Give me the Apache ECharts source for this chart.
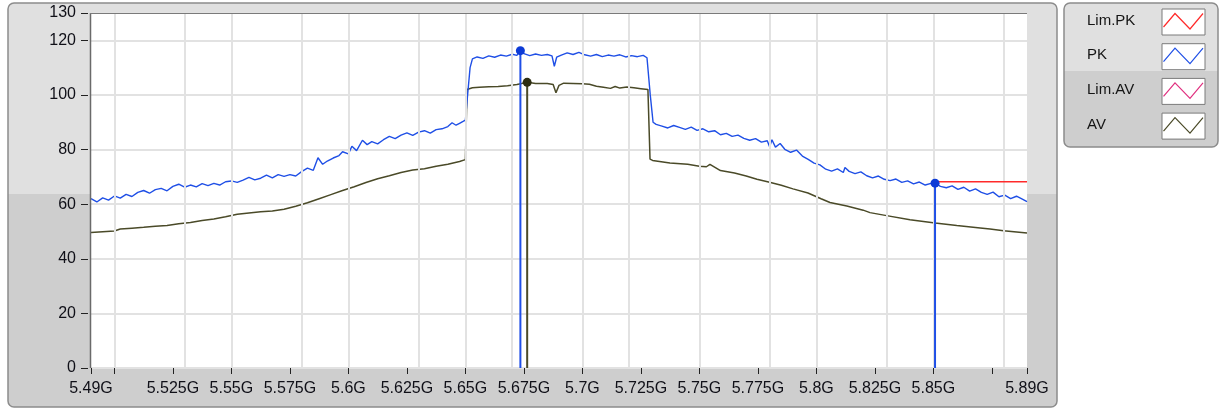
<!DOCTYPE html>
<html>
<head>
<meta charset="utf-8">
<script src="https://cdn.jsdelivr.net/npm/echarts@6/dist/echarts.min.js"></script>
<style>
html,body{margin:0;padding:0;background:#ffffff;}
#c{width:1223px;height:412px;}
</style>
</head>
<body>
<div id="c"></div>
<script>
// ---------- data ----------
const seriesNames = ['Lim.PK', 'PK', 'Lim.AV', 'AV'];

const xLabelValues = [5.49, 5.525, 5.55, 5.575, 5.6, 5.625, 5.65, 5.675, 5.7, 5.725, 5.75, 5.775, 5.8, 5.825, 5.85, 5.89];
const xLabelTexts = ['5.49G', '5.525G', '5.55G', '5.575G', '5.6G', '5.625G', '5.65G', '5.675G', '5.7G', '5.725G', '5.75G', '5.775G', '5.8G', '5.825G', '5.85G', '5.89G'];
const xTickValues = [5.49, 5.5, 5.525, 5.55, 5.575, 5.6, 5.625, 5.65, 5.675, 5.7, 5.725, 5.75, 5.775, 5.8, 5.825, 5.85, 5.875, 5.89];
const xGridValues = [5.5, 5.525, 5.55, 5.575, 5.6, 5.625, 5.65, 5.675, 5.7, 5.725, 5.75, 5.775, 5.8, 5.825, 5.85, 5.875];
const yTickValues = [0, 20, 40, 60, 80, 100, 120, 130];

const pkData = [
  [5.4900, 62.0], [5.4925, 60.8], [5.4950, 62.3], [5.4975, 61.5], [5.5000, 63.0], [5.5025, 62.2],
  [5.5050, 63.6], [5.5075, 62.8], [5.5100, 64.3], [5.5125, 65.0], [5.5150, 64.0], [5.5175, 65.3],
  [5.5200, 65.8], [5.5225, 64.9], [5.5250, 66.5], [5.5275, 67.3], [5.5300, 66.2], [5.5325, 67.0],
  [5.5350, 66.3], [5.5375, 67.5], [5.5400, 66.8], [5.5425, 67.6], [5.5450, 67.0], [5.5475, 68.2],
  [5.5500, 68.5], [5.5525, 68.0], [5.5550, 68.8], [5.5575, 69.8], [5.5600, 68.9], [5.5625, 69.5],
  [5.5650, 70.6], [5.5675, 69.6], [5.5700, 70.8], [5.5725, 70.2], [5.5750, 70.8], [5.5775, 70.3],
  [5.5800, 71.9], [5.5825, 73.2], [5.5850, 72.4], [5.5870, 77.0], [5.5890, 74.6], [5.5910, 75.8],
  [5.5935, 76.9], [5.5960, 77.8], [5.5975, 79.2], [5.6000, 78.4], [5.6015, 81.2], [5.6035, 79.6],
  [5.6060, 83.4], [5.6080, 81.8], [5.6100, 82.9], [5.6125, 82.1], [5.6150, 83.6], [5.6175, 84.8],
  [5.6200, 84.0], [5.6225, 85.3], [5.6250, 86.1], [5.6275, 85.2], [5.6300, 86.4], [5.6325, 86.9],
  [5.6350, 86.0], [5.6375, 87.3], [5.6400, 87.6], [5.6425, 88.4], [5.6443, 89.8], [5.6460, 88.9],
  [5.6475, 89.6], [5.6490, 90.3], [5.6500, 90.8], [5.6510, 100.5], [5.6520, 110.0], [5.6530, 113.2],
  [5.6550, 113.9], [5.6575, 113.4], [5.6600, 114.3], [5.6625, 113.8], [5.6650, 114.6], [5.6675, 114.2],
  [5.6700, 114.9], [5.6720, 114.5], [5.6735, 116.2], [5.6750, 115.1], [5.6775, 114.4], [5.6800, 115.0],
  [5.6825, 114.5], [5.6850, 114.8], [5.6870, 114.3], [5.6880, 110.5], [5.6890, 113.8], [5.6910, 114.6],
  [5.6935, 115.4], [5.6960, 114.8], [5.6985, 115.6], [5.7010, 114.7], [5.7035, 114.2], [5.7060, 114.8],
  [5.7085, 114.0], [5.7110, 114.6], [5.7135, 114.2], [5.7160, 114.7], [5.7185, 113.9], [5.7210, 114.4],
  [5.7235, 114.0], [5.7260, 114.5], [5.7276, 113.6], [5.7290, 100.0], [5.7302, 90.0], [5.7315, 89.2],
  [5.7340, 88.6], [5.7365, 87.9], [5.7390, 88.8], [5.7415, 88.1], [5.7440, 87.4], [5.7465, 88.2],
  [5.7490, 87.0], [5.7515, 87.6], [5.7540, 86.5], [5.7565, 86.9], [5.7590, 85.4], [5.7615, 85.9],
  [5.7640, 84.8], [5.7665, 85.3], [5.7690, 84.1], [5.7715, 83.4], [5.7740, 84.0], [5.7765, 82.7],
  [5.7790, 83.2], [5.7800, 81.0], [5.7810, 83.6], [5.7825, 80.9], [5.7845, 82.2], [5.7865, 80.1],
  [5.7890, 79.0], [5.7915, 79.8], [5.7940, 77.6], [5.7965, 76.4], [5.7990, 75.0], [5.8015, 74.4],
  [5.8040, 72.8], [5.8065, 72.1], [5.8090, 72.9], [5.8115, 71.6], [5.8122, 73.4], [5.8140, 72.0],
  [5.8165, 71.2], [5.8190, 71.8], [5.8215, 70.4], [5.8240, 69.6], [5.8265, 70.3], [5.8290, 69.1],
  [5.8315, 68.6], [5.8340, 69.2], [5.8365, 68.0], [5.8390, 68.5], [5.8415, 67.4], [5.8440, 68.1],
  [5.8465, 67.0], [5.8490, 67.6], [5.8507, 67.7], [5.8530, 66.5], [5.8555, 66.0], [5.8580, 66.7],
  [5.8605, 65.4], [5.8630, 66.2], [5.8655, 64.8], [5.8680, 65.6], [5.8705, 64.3], [5.8730, 63.6],
  [5.8755, 64.4], [5.8780, 62.7], [5.8805, 63.3], [5.8830, 62.0], [5.8855, 62.9], [5.8880, 61.8],
  [5.8900, 60.9]
];

const avData = [
  [5.4900, 49.6], [5.4950, 49.9], [5.5000, 50.2], [5.5025, 50.9], [5.5075, 51.2], [5.5125, 51.5],
  [5.5175, 51.9], [5.5225, 52.2], [5.5275, 52.8], [5.5325, 53.3], [5.5375, 54.0], [5.5425, 54.6],
  [5.5475, 55.4], [5.5525, 56.3], [5.5575, 56.8], [5.5625, 57.2], [5.5675, 57.5], [5.5725, 58.1],
  [5.5775, 59.2], [5.5825, 60.5], [5.5875, 62.0], [5.5925, 63.5], [5.5975, 65.0], [5.6025, 66.4],
  [5.6075, 67.9], [5.6125, 69.3], [5.6175, 70.4], [5.6225, 71.6], [5.6275, 72.5], [5.6325, 73.0],
  [5.6375, 73.9], [5.6425, 74.6], [5.6475, 75.6], [5.6500, 76.3], [5.6507, 102.0], [5.6530, 102.6],
  [5.6560, 102.8], [5.6600, 103.0], [5.6640, 103.1], [5.6680, 103.4], [5.6720, 103.8], [5.6764, 104.6],
  [5.6800, 104.2], [5.6850, 104.2], [5.6875, 103.8], [5.6887, 100.8], [5.6900, 103.5], [5.6920, 104.3],
  [5.6960, 104.2], [5.7000, 104.1], [5.7030, 103.9], [5.7060, 103.2], [5.7090, 102.8], [5.7120, 102.4],
  [5.7140, 103.1], [5.7160, 102.5], [5.7190, 102.9], [5.7220, 102.6], [5.7250, 102.3], [5.7280, 102.0],
  [5.7289, 76.5], [5.7300, 76.0], [5.7374, 75.1], [5.7450, 74.6], [5.7500, 73.9], [5.7530, 73.7],
  [5.7545, 74.6], [5.7590, 72.3], [5.7650, 71.4], [5.7700, 70.3], [5.7746, 69.1], [5.7800, 68.0],
  [5.7850, 66.9], [5.7900, 65.6], [5.7964, 64.1], [5.8020, 62.0], [5.8058, 60.6], [5.8130, 59.3],
  [5.8200, 57.8], [5.8229, 56.9], [5.8300, 55.8], [5.8400, 54.3], [5.8507, 53.1], [5.8600, 52.2],
  [5.8700, 51.3], [5.8742, 50.9], [5.8800, 50.3], [5.8900, 49.4]
];

const limPkData = [[5.8507, 68.2], [5.8900, 68.2]];
const limAvData = [];

// cursor markers: [frequency, level]
const pkPeakMarker = [5.6735, 116.2];
const avPeakMarker = [5.6764, 104.6];
const pkLimitMarker = [5.8507, 67.7];

// ---------- styles ----------
const COLORS = { limPk: '#ff2a2a', pk: '#1f4fe6', limAv: '#e0307f', av: '#4a4a28', pkDot: '#0d3bd6', avDot: '#2e2e12' };
const FONT = 'Liberation Sans';
const TEXT = '#101018';
const GRID = '#e2e2e2';

const chart = echarts.init(document.getElementById('c'), null, { renderer: 'canvas' });

function markerSeries(m, color, dotColor) {
  return {
    type: 'line', silent: true, z: 6,
    lineStyle: { color: color, width: 2 },
    itemStyle: { color: dotColor },
    showSymbol: true, symbolSize: 9,
    data: [{ value: [m[0], 0], symbol: 'none' }, { value: [m[0], m[1]], symbol: 'circle' }]
  };
}

const legendColors = [COLORS.limPk, COLORS.pk, COLORS.limAv, COLORS.av];
const legendGraphics = [];
seriesNames.forEach((name, i) => {
  const cy = 22 + i * 34.7;
  legendGraphics.push({ type: 'text', left: 1087, top: cy - 9, z: 10,
    style: { text: name, font: '15px "' + FONT + '"', fill: '#141414' } });
  legendGraphics.push({ type: 'rect', z: 10, shape: { x: 1162, y: cy - 13, width: 43, height: 26 },
    style: { fill: '#ffffff', stroke: '#7a7a7a', lineWidth: 1 } });
  legendGraphics.push({ type: 'polyline', z: 11,
    shape: { points: [[1163.5, cy + 5], [1175, cy - 8.5], [1190, cy + 7], [1203, cy - 8.5]] },
    style: { stroke: legendColors[i], lineWidth: 1.2, fill: null } });
});

const option = {
  animation: false,
  backgroundColor: '#ffffff',
  grid: { left: 91, top: 13, right: 196, bottom: 44, show: true, backgroundColor: '#ffffff', borderWidth: 0 },
  xAxis: {
    type: 'value', min: 5.49, max: 5.89, offset: 4,
    axisLine: { show: false },
    axisTick: { show: true, length: 6, customValues: xTickValues, lineStyle: { color: '#222', width: 1 } },
    axisLabel: {
      customValues: xLabelValues, margin: 9, color: TEXT, fontSize: 16, fontFamily: FONT,
      formatter: function (v) {
        const i = xLabelValues.findIndex(u => Math.abs(u - v) < 1e-6);
        return i >= 0 ? xLabelTexts[i] : '';
      }
    },
    splitLine: { show: false }
  },
  yAxis: {
    type: 'value', min: 0, max: 130, interval: 20, offset: 3,
    axisLine: { show: false },
    axisTick: { show: true, length: 7, customValues: yTickValues, lineStyle: { color: '#222', width: 1 } },
    axisLabel: { customValues: yTickValues, margin: 12, color: TEXT, fontSize: 16, fontFamily: FONT },
    splitLine: { show: true, lineStyle: { color: GRID, width: 2 } }
  },
  graphic: [
    { type: 'rect', z: -20, shape: { x: 8, y: 3, width: 1049, height: 404, r: 6 },
      style: { stroke: '#8c8c8c', lineWidth: 1.5,
        fill: { type: 'linear', x: 0, y: 0, x2: 0, y2: 1, colorStops: [
          { offset: 0, color: '#e0e0e0' }, { offset: 0.473, color: '#e0e0e0' },
          { offset: 0.473, color: '#cecece' }, { offset: 1, color: '#cecece' }] } } },
    { type: 'rect', z: -20, shape: { x: 1064, y: 3, width: 154, height: 144, r: 6 },
      style: { stroke: '#8c8c8c', lineWidth: 1.5,
        fill: { type: 'linear', x: 0, y: 0, x2: 0, y2: 1, colorStops: [
          { offset: 0, color: '#e0e0e0' }, { offset: 0.472, color: '#e0e0e0' },
          { offset: 0.472, color: '#cecece' }, { offset: 1, color: '#cecece' }] } } },
    { type: 'line', z: 20, shape: { x1: 90.5, y1: 13, x2: 90.5, y2: 368 }, style: { stroke: '#6a6a6a', lineWidth: 1.5 } },
    { type: 'line', z: 20, shape: { x1: 90, y1: 13.5, x2: 1027, y2: 13.5 }, style: { stroke: '#7a7a7a', lineWidth: 1.2 } }
  ].concat(legendGraphics),
  series: [
    { type: 'line', name: 'grid', silent: true, z: 1, data: [],
      markLine: { silent: true, symbol: 'none', label: { show: false }, animation: false,
        lineStyle: { color: GRID, width: 2, type: 'solid' },
        data: xGridValues.map(v => ({ xAxis: v })) } },
    { type: 'line', name: seriesNames[3], data: avData, z: 3, showSymbol: false,
      lineStyle: { color: COLORS.av, width: 1.5 }, itemStyle: { color: COLORS.av } },
    { type: 'line', name: seriesNames[1], data: pkData, z: 4, showSymbol: false,
      lineStyle: { color: COLORS.pk, width: 1.4 }, itemStyle: { color: COLORS.pk } },
    { type: 'line', name: seriesNames[2], data: limAvData, z: 5, showSymbol: false,
      lineStyle: { color: COLORS.limAv, width: 1.5 } },
    { type: 'line', name: seriesNames[0], data: limPkData, z: 5, showSymbol: false,
      lineStyle: { color: COLORS.limPk, width: 1.6 } },
    markerSeries(pkPeakMarker, COLORS.pk, COLORS.pkDot),
    markerSeries(avPeakMarker, COLORS.av, COLORS.avDot),
    markerSeries(pkLimitMarker, COLORS.pk, COLORS.pkDot)
  ]
};
chart.setOption(option);
</script>
</body>
</html>
